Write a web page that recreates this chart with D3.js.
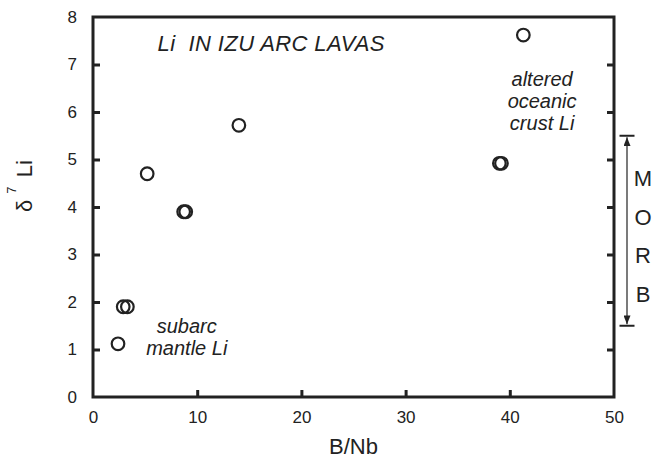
<!DOCTYPE html>
<html><head><meta charset="utf-8">
<script src="https://cdn.jsdelivr.net/npm/d3@7"></script>
<style>body{margin:0;background:#fff}svg{display:block}text{font-family:"Liberation Sans",Arial,sans-serif;fill:#222}</style>
</head><body><svg id="c" width="652" height="460"></svg>
<script>
const bNb = [2.4, 2.9, 3.3, 5.2, 8.7, 8.9, 14.0, 39.0, 39.2, 41.3];
const d7Li = [1.12, 1.9, 1.9, 4.7, 3.9, 3.9, 5.72, 4.92, 4.92, 7.62];
const xTicks = [0, 10, 20, 30, 40, 50];
const yTicks = [0, 1, 2, 3, 4, 5, 6, 7, 8];
const morbRange = [1.5, 5.5];
const morbLetters = ["M", "O", "R", "B"];

const svg = d3.select("#c");
const m = {l: 93, r: 614, t: 17, b: 397};
const x = d3.scaleLinear().domain([0, 50]).range([m.l, m.r]);
const y = d3.scaleLinear().domain([0, 8]).range([m.b, m.t]);
const col = "#222";
const ff = '"Liberation Sans",Arial,sans-serif';

const gx = svg.append("g").attr("transform", `translate(0,${m.b})`)
  .call(d3.axisBottom(x).tickValues(xTicks).tickSize(-7).tickPadding(14).tickFormat(d3.format("d")));
const gy = svg.append("g").attr("transform", `translate(${m.l},0)`)
  .call(d3.axisLeft(y).tickValues(yTicks).tickSize(-7).tickPadding(16).tickFormat(d3.format("d")));
const gr = svg.append("g").attr("transform", `translate(${m.r},0)`)
  .call(d3.axisRight(y).tickValues(yTicks).tickSize(-7).tickFormat(""));
[gx, gy, gr].forEach(g => {
  g.attr("font-size", 17).attr("font-family", ff);
  g.select(".domain").remove();
  g.selectAll(".tick line").attr("stroke", col).attr("stroke-width", 3);
  g.selectAll(".tick text").attr("fill", col);
});
gx.selectAll(".tick").filter(d => d === 0 || d === 50).select("line").remove();
gy.selectAll(".tick").filter(d => d === 0 || d === 8).select("line").remove();
gr.selectAll(".tick").filter(d => d === 0 || d === 8).select("line").remove();

svg.append("rect").attr("x", m.l).attr("y", m.t).attr("width", m.r - m.l).attr("height", m.b - m.t)
  .attr("fill", "none").attr("stroke", col).attr("stroke-width", 3);

svg.append("g").selectAll("circle").data(bNb.map((v, i) => [v, d7Li[i]])).join("circle")
  .attr("cx", d => x(d[0])).attr("cy", d => y(d[1])).attr("r", 6.3)
  .attr("fill", "none").attr("stroke", col).attr("stroke-width", 2.2);

svg.append("text").attr("x", x(6.2)).attr("y", 51).attr("font-size", 22).attr("font-style", "italic")
  .attr("letter-spacing", 0.4).attr("xml:space", "preserve").text("Li  IN IZU ARC LAVAS");
const alt = ["altered", "oceanic", "crust Li"];
svg.append("g").selectAll("text").data(alt).join("text")
  .attr("x", x(43.1)).attr("y", (d, i) => 86 + i * 22).attr("text-anchor", "middle")
  .attr("font-size", 20).attr("font-style", "italic").text(d => d);
const sub = ["subarc", "mantle Li"];
svg.append("g").selectAll("text").data(sub).join("text")
  .attr("x", x(9.0)).attr("y", (d, i) => 333 + i * 22).attr("text-anchor", "middle")
  .attr("font-size", 20).attr("font-style", "italic").text(d => d);

const ax = 627;
svg.append("defs").append("marker").attr("id", "ar").attr("viewBox", "0 0 10 8")
  .attr("refX", 10).attr("refY", 4).attr("markerWidth", 9).attr("markerHeight", 7)
  .attr("markerUnits", "userSpaceOnUse").attr("orient", "auto-start-reverse")
  .append("path").attr("d", "M0,0 L10,4 L0,8 Z").attr("fill", col);
svg.append("line").attr("x1", ax).attr("x2", ax).attr("y1", y(morbRange[0]) - 1.5).attr("y2", y(morbRange[1]) + 1.5)
  .attr("stroke", col).attr("stroke-width", 1.2)
  .attr("marker-start", "url(#ar)").attr("marker-end", "url(#ar)");
morbRange.forEach(v => svg.append("line").attr("x1", ax - 7.5).attr("x2", ax + 7.5)
  .attr("y1", y(v)).attr("y2", y(v)).attr("stroke", col).attr("stroke-width", 2));
svg.append("g").selectAll("text").data(morbLetters).join("text")
  .attr("x", 643).attr("y", (d, i) => 186 + i * 38.7).attr("text-anchor", "middle")
  .attr("font-size", 22).text(d => d);

svg.append("text").attr("x", x(25)).attr("y", 454).attr("text-anchor", "middle").attr("font-size", 22).text("B/Nb");
const yt = svg.append("text").attr("transform", `translate(32,212) rotate(-90)`).attr("text-anchor", "start").attr("font-size", 22)
  .attr("xml:space", "preserve");
yt.append("tspan").text("δ ");
yt.append("tspan").attr("font-size", 13).attr("dy", -16).text("7");
yt.append("tspan").attr("dy", 16).attr("dx", 3).text(" Li");
</script></body></html>
